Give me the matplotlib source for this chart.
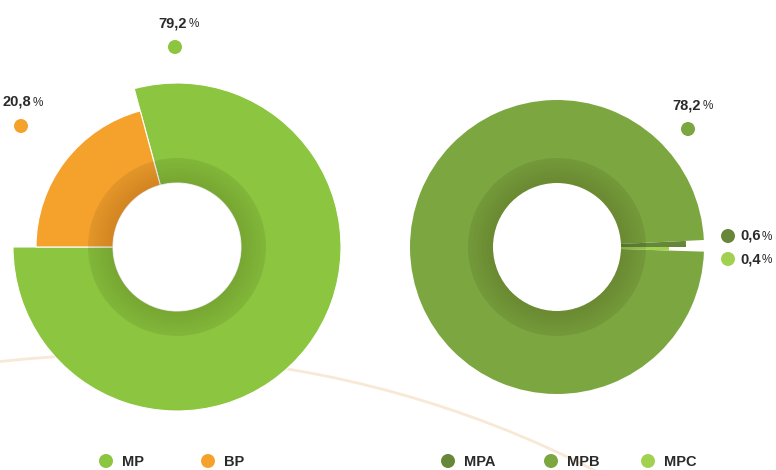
import matplotlib
matplotlib.use("Agg")
import matplotlib.pyplot as plt
from matplotlib.patches import Wedge, Circle

# data
left_labels = ["MP", "BP"]
left_values = [79.2, 20.8]
right_labels = ["MPA", "MPB", "MPC"]
right_values = [0.6, 78.2, 0.4]

left_colors = ["#8CC53F", "#F5A22D"]
right_colors = ["#66873A", "#7CA63F", "#A2D050"]

W, H = 776, 470
FONT = ["Liberation Sans Narrow", "Liberation Sans", "DejaVu Sans"]
TXT = "#2a2a2a"


def py(y):
    # image y (top-down) -> axes y
    return H - y


def fmt(v):
    return f"{v:.1f}".replace(".", ",")


fig = plt.figure(figsize=(W / 100, H / 100), dpi=100)
ax = fig.add_axes([0, 0, 1, 1])

# decorative background arc
ax.add_patch(Circle((117, py(1401)), 1046, fill=False, ec="#F8E9D6", lw=2, zorder=0))

r_in = 64

# left donut
lc = (177, py(247))
wl, _ = ax.pie(left_values, colors=left_colors, startangle=180, counterclock=True,
               radius=164, center=lc,
               wedgeprops=dict(width=164 - r_in, edgecolor="white", linewidth=0.8))
for w, r in zip(wl, [164, 141]):
    w.set_radius(r)
    w.set_width(r - r_in)

# right donut
rc = (557, py(247))
wr, _ = ax.pie(right_values, colors=right_colors, startangle=0, counterclock=True,
               radius=147, center=rc,
               wedgeprops=dict(width=147 - r_in, linewidth=0))
for w, r in zip(wr, [129, 147, 112]):
    w.set_radius(r)
    w.set_width(r - r_in)

# inner shadow ring, a bit darker towards the hole
for c in (lc, rc):
    ax.add_patch(Wedge(c, 89, 0, 360, width=25, fc="black", alpha=0.07, lw=0, zorder=3))
    for i in range(8):
        ax.add_patch(Wedge(c, 64 + 3 * (8 - i), 0, 360, width=3 * (8 - i),
                           fc="black", alpha=0.006, lw=0, zorder=3))


# value labels with dots; number bold, smaller % sign right after it
def tag(x, y, value, color, dx=-2, dy=-24, ha="center"):
    ax.add_patch(Circle((x, py(y)), 7, fc=color, lw=0, zorder=5))
    t = ax.text(x + dx, py(y + dy), fmt(value), ha=ha, va="center", fontsize=10.5,
                fontweight="bold", color=TXT, family=FONT, zorder=5)
    ax.annotate("%", xy=(1, 0), xycoords=t, xytext=(1, 0), textcoords="offset points",
                ha="left", va="bottom", fontsize=8.5, color=TXT,
                family=FONT, zorder=5)


tag(175, 47, left_values[0], left_colors[0])
tag(21, 126, left_values[1], left_colors[1], dx=-4)
tag(688, 129, right_values[1], right_colors[1], dx=-1)
tag(728, 236, right_values[0], right_colors[0], dx=12, dy=0, ha="left")
tag(728, 259, right_values[2], right_colors[2], dx=12, dy=0, ha="left")

# legends
for x, lab, col in zip([106, 208], left_labels, left_colors):
    ax.add_patch(Circle((x, py(461)), 7, fc=col, lw=0, zorder=5))
    ax.text(x + 16, py(462), lab, ha="left", va="center", fontsize=10.5,
            fontweight="bold", color=TXT, family=FONT)
for x, lab, col in zip([448, 551, 648], right_labels, right_colors):
    ax.add_patch(Circle((x, py(461)), 7, fc=col, lw=0, zorder=5))
    ax.text(x + 16, py(462), lab, ha="left", va="center", fontsize=10.5,
            fontweight="bold", color=TXT, family=FONT)

ax.set_xlim(0, W)
ax.set_ylim(0, H)
ax.set_aspect("equal")
ax.axis("off")

fig.savefig("out.png", dpi=100)
